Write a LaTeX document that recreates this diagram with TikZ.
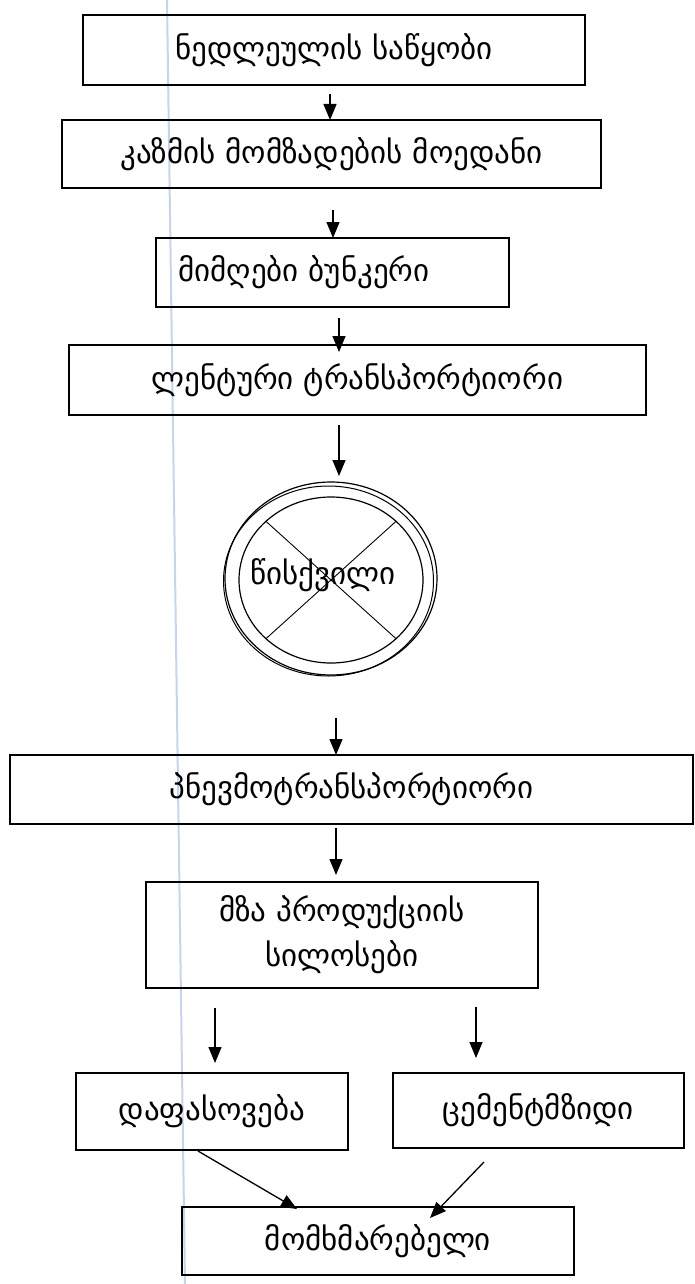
\documentclass[tikz,border=0pt]{standalone}
\usepackage{fontspec}
\newfontfamily\geo{DejaVu Sans}
\usetikzlibrary{arrows.meta,shapes.geometric,calc}
\definecolor{marginblue}{RGB}{200,213,232}
\begin{document}
\begin{tikzpicture}[x=1pt,y=-1pt,
  box/.style={draw,line width=1.3pt,inner sep=0pt,outer sep=0pt,align=center,font=\geo\fontsize{31}{45}\selectfont},
  lbl/.style={inner sep=0pt,outer sep=0pt,font=\geo\fontsize{31}{40}\selectfont},
  ring/.style={draw,ellipse,line width=1.2pt,inner sep=0pt,outer sep=0pt},
  arr/.style={line width=1.3pt,-{Triangle[length=16pt,width=13pt]}}]
\useasboundingbox (0,0) rectangle (695,1284);
\fill[white] (0,0) rectangle (695,1284);
\draw[line width=2pt,marginblue] (167,0) -- (185,1284);

\node[box,minimum width=502pt,minimum height=70pt] (b1) at (334,50) {ნედლეულის საწყობი};
\node[box,minimum width=539pt,minimum height=68pt] (b2) at (331.5,154) {კაზმის მომზადების მოედანი};
\node[box,minimum width=353pt,minimum height=69pt] (b3) at (332.5,272.5) {};
\node[lbl] (t3) at (304,272.5) {მიმღები ბუნკერი};
\node[box,minimum width=577pt,minimum height=70pt] (b4) at (357.5,380) {ლენტური ტრანსპორტიორი};

\node[ring,minimum width=212pt,minimum height=193pt] (mill) at (331,578.5) {};
\draw[line width=1pt] ($(mill.center)+(-2.5,2.5)$) ellipse[x radius=105pt,y radius=95pt];
\node[ring,minimum width=184pt,minimum height=166pt] (millin) at (331,580) {};
\draw[line width=0.9pt] (millin.north west) -- (millin.south east);
\draw[line width=0.9pt] (millin.north east) -- (millin.south west);
\node[lbl] (t5) at (323,575) {წისქვილი};

\node[box,minimum width=683pt,minimum height=69pt] (b5) at (351.5,789.5) {პნევმოტრანსპორტიორი};
\node[box,minimum width=392pt,minimum height=106pt] (b6) at (342,935) {მზა პროდუქციის\\სილოსები};
\node[box,minimum width=272pt,minimum height=77pt] (b7) at (212,1111.5) {დაფასოვება};
\node[box,minimum width=291pt,minimum height=75pt] (b8) at (538.5,1110.5) {ცემენტმზიდი};
\node[box,minimum width=392pt,minimum height=68pt] (b9) at (378,1241) {მომხმარებელი};

\coordinate (s1) at (330,94);
\coordinate (s2) at (333,210);
\coordinate (s3) at (339,318);
\coordinate (s4) at (339,425);
\coordinate (s5) at (336,718);
\coordinate (s6) at (336,828);
\coordinate (s7) at (215,1008);
\coordinate (s8) at (476,1007);
\coordinate (s9) at (198,1151);
\coordinate (s10) at (484,1162);
\coordinate (e9) at (297,1209);
\coordinate (e10) at (430,1218);

\draw[arr] (s1) -- (s1 |- b2.north);
\draw[arr] (s2) -- (s2 |- b3.north);
\draw[arr] (s3) -- ($(s3 |- b4.north)+(0,7)$);
\draw[arr] (s4) -- ($(s4 |- mill.north)+(0,-6)$);
\draw[arr] (s5) -- (s5 |- b5.north);
\draw[arr] (s6) -- ($(s6 |- b6.north)+(0,-7)$);
\draw[arr] (s7) -- ($(s7 |- b7.north)+(0,-10)$);
\draw[arr] (s8) -- ($(s8 |- b8.north)+(0,-15)$);
\draw[arr] (s9) -- (e9);
\draw[arr] (s10) -- (e10);
\end{tikzpicture}
\end{document}
